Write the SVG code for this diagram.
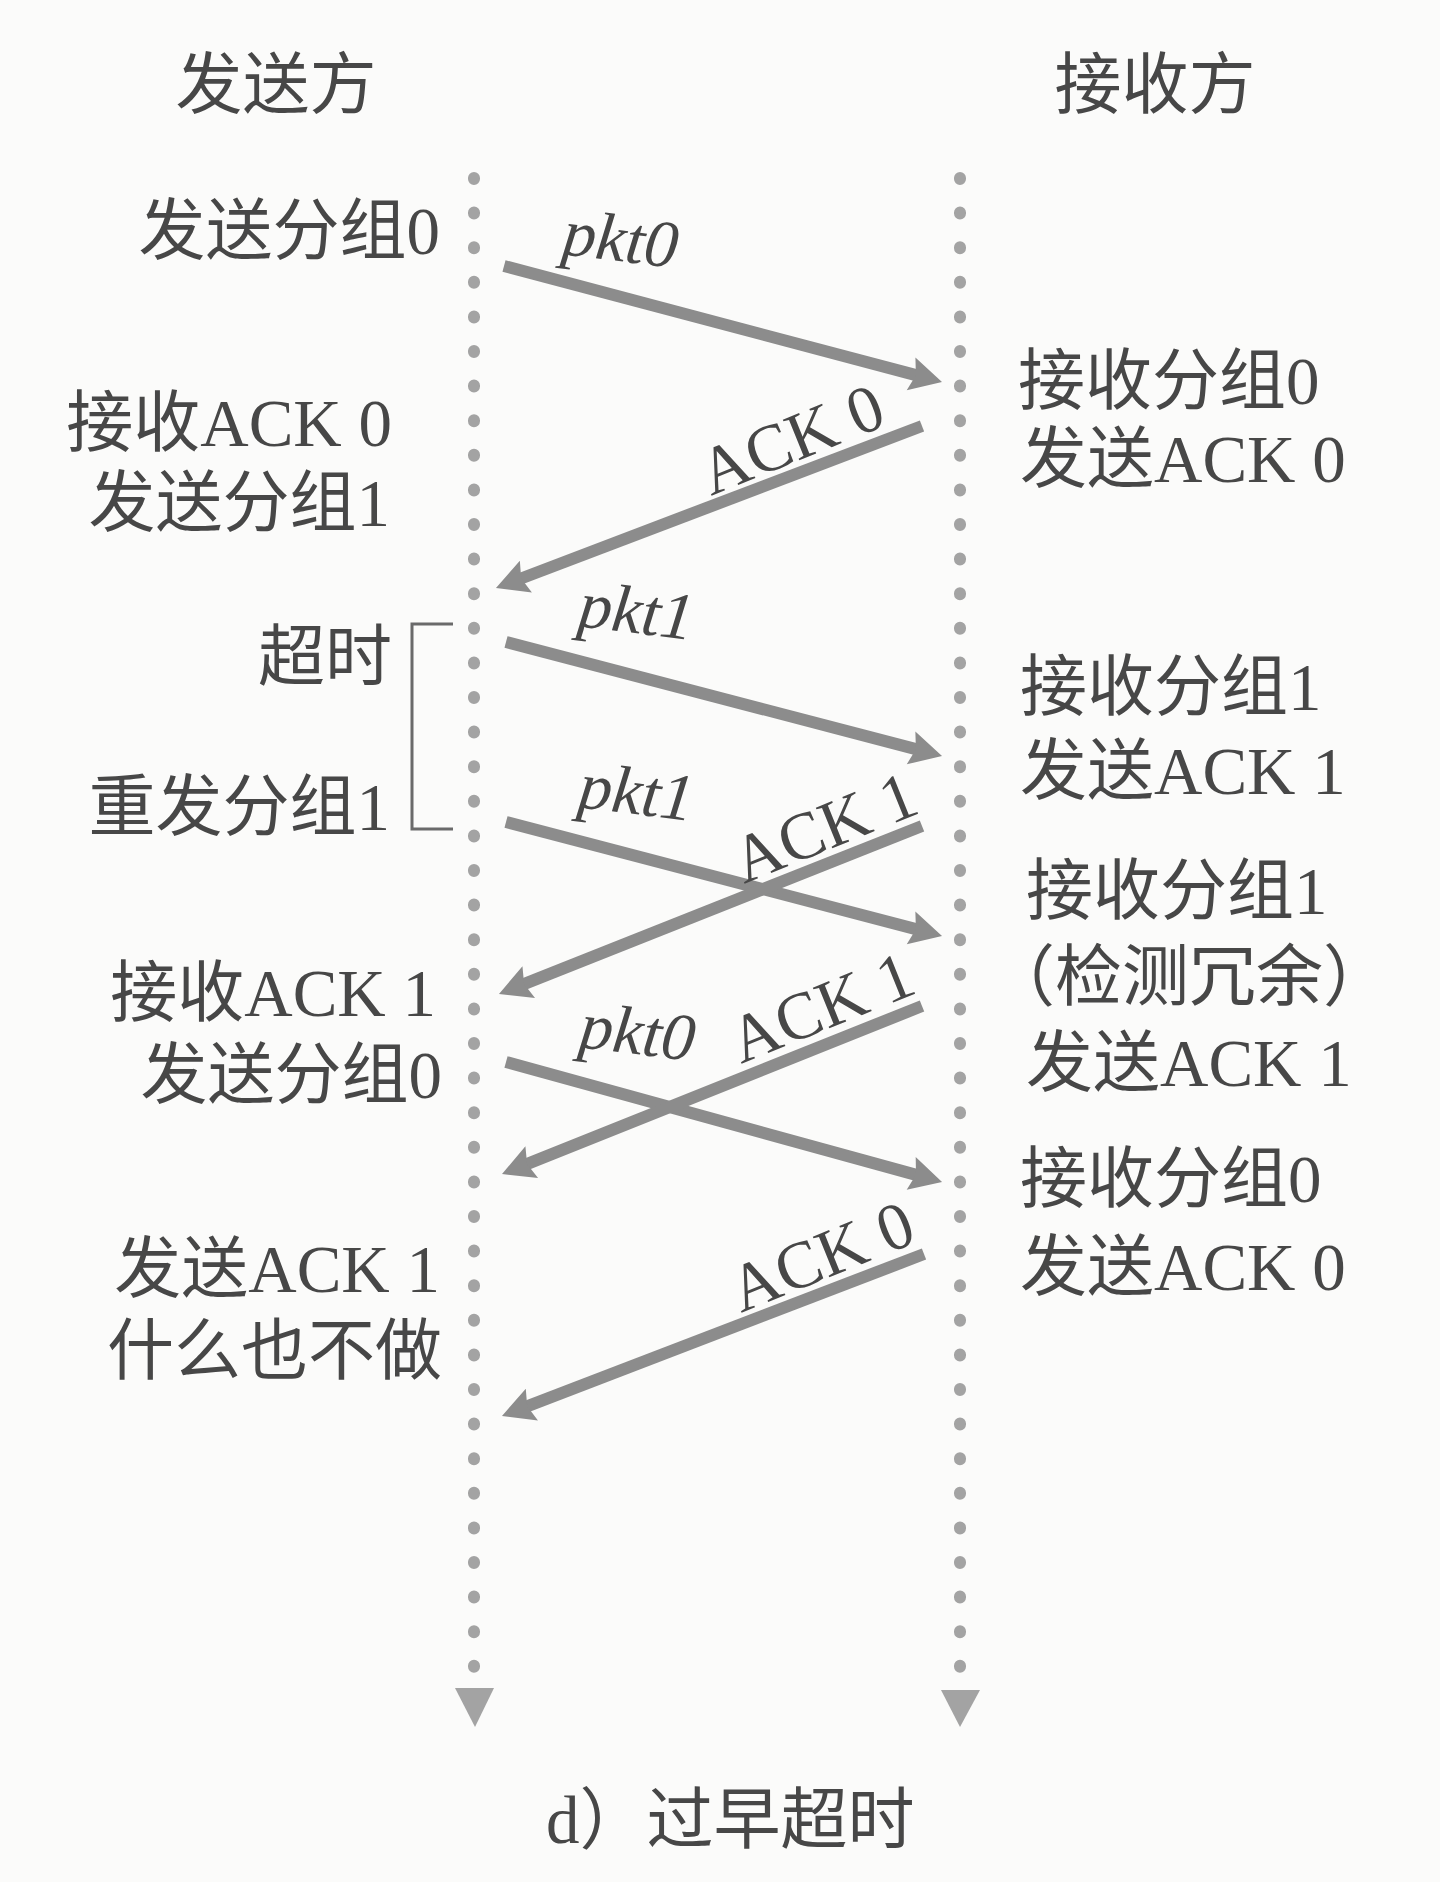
<svg xmlns="http://www.w3.org/2000/svg" width="1440" height="1882" viewBox="0 0 1440 1882">
<style>
.t{font-family:"Liberation Serif","Noto Sans CJK SC",serif;font-size:67px;fill:#474747}
.e{text-anchor:end}
.m{text-anchor:middle}
.i{font-style:italic}
.life{stroke:#a3a3a3;stroke-width:12;stroke-linecap:round;stroke-dasharray:1 33.6;fill:none}
.arr{stroke:#8c8c8c;stroke-width:12;fill:none;marker-end:url(#ah)}
</style>
<defs>
<marker id="ah" markerUnits="userSpaceOnUse" viewBox="-12 -20 40 40" markerWidth="40" markerHeight="40" refX="0" refY="0" orient="auto">
<path d="M24,0 L-8,-17 L-3,0 L-8,17 Z" fill="#8c8c8c"/>
</marker>
</defs>
<rect x="0" y="0" width="1440" height="1882" fill="#fbfbfa"/>
<g id="sender">
<text class="t m" x="276" y="108">发送方</text>
<line class="life" x1="474" y1="178" x2="474" y2="1680"/>
<polygon points="455,1688 494,1688 475,1727" fill="#a3a3a3"/>
</g>
<g id="receiver">
<text class="t m" x="1155" y="108">接收方</text>
<line class="life" x1="960" y1="178" x2="960" y2="1680"/>
<polygon points="941,1690 980,1690 960,1727" fill="#a3a3a3"/>
</g>
<g id="sender-labels">
<text class="t e" x="440" y="254">发送分组0</text>
<text class="t e" x="392" y="446">接收ACK 0</text>
<text class="t e" x="390" y="526">发送分组1</text>
<text class="t e" x="392" y="680">超时</text>
<text class="t e" x="390" y="830">重发分组1</text>
<text class="t e" x="436" y="1016">接收ACK 1</text>
<text class="t e" x="442" y="1098">发送分组0</text>
<text class="t e" x="440" y="1292">发送ACK 1</text>
<text class="t e" x="442" y="1374">什么也不做</text>
</g>
<g id="timeout-bracket">
<path d="M453,624 L412,624 L412,829 L453,829" stroke="#6a6a6a" stroke-width="3" fill="none"/>
</g>
<g id="receiver-labels">
<text class="t" x="1018" y="404">接收分组0</text>
<text class="t" x="1020" y="482">发送ACK 0</text>
<text class="t" x="1020" y="710">接收分组1</text>
<text class="t" x="1020" y="794">发送ACK 1</text>
<text class="t" x="1026" y="914">接收分组1</text>
<text class="t" x="988" y="1000">（检测冗余）</text>
<text class="t" x="1026" y="1086">发送ACK 1</text>
<text class="t" x="1020" y="1202">接收分组0</text>
<text class="t" x="1020" y="1290">发送ACK 0</text>
</g>
<g id="connectors">
<line class="arr" x1="504" y1="266" x2="918.8" y2="375.9"/>
<line class="arr" x1="922" y1="426" x2="518.4" y2="579.5"/>
<line class="arr" x1="506" y1="642" x2="918.8" y2="749.9"/>
<line class="arr" x1="506" y1="822" x2="918.8" y2="929.9"/>
<line class="arr" x1="922" y1="826" x2="521.3" y2="985.1"/>
<line class="arr" x1="506" y1="1062" x2="918.9" y2="1175.6"/>
<line class="arr" x1="922" y1="1006" x2="524.3" y2="1165.1"/>
<line class="arr" x1="924" y1="1254" x2="524.4" y2="1407.4"/>
</g>
<g id="connector-labels">
<text class="t m i" transform="translate(618,261) rotate(7)">pkt0</text>
<text class="t m" transform="translate(800,460) rotate(-22)">ACK 0</text>
<text class="t m i" transform="translate(634,633) rotate(7)">pkt1</text>
<text class="t m i" transform="translate(634,814) rotate(7)">pkt1</text>
<text class="t m" transform="translate(833,848) rotate(-22)">ACK 1</text>
<text class="t m i" transform="translate(635,1054) rotate(7)">pkt0</text>
<text class="t m" transform="translate(830,1028) rotate(-22)">ACK 1</text>
<text class="t m" transform="translate(830,1277) rotate(-22)">ACK 0</text>
</g>
<g id="caption">
<text class="t" x="546" y="1843">d）过早超时</text>
</g>
</svg>
